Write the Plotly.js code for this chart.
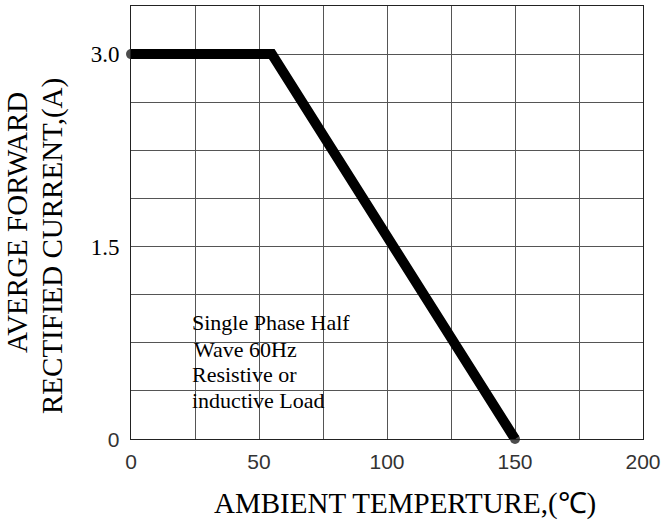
<!DOCTYPE html>
<html><head><meta charset="utf-8">
<script src="https://cdn.plot.ly/plotly-3.0.1.min.js"></script>
<style>html,body{margin:0;padding:0;background:#fff}</style>
</head><body>
<div id="chart" style="width:669px;height:521px"></div>
<script>
// Derating curve data
const temperature = [0, 55, 150];
const current = [3.0, 3.0, 0];
// Axis ticks
const xTickVals = [0, 25, 50, 75, 100, 125, 150, 175, 200];
const xTickText = ['0', '', '50', '', '100', '', '150', '', '200'];
const yTickVals = [0, 0.375, 0.75, 1.125, 1.5, 1.875, 2.25, 2.625, 3.0, 3.375];
const yTickText = ['0', '', '', '', '1.5', '', '', '', '3.0', ''];
const noteLines = ['Single Phase Half', 'Wave 60Hz', 'Resistive or', 'inductive Load'];
const xTitle = 'AMBIENT TEMPERTURE,(\u2103)';
const yTitleLines = ['AVERGE FORWARD', 'RECTIFIED CURRENT,(A)'];

const SERIF = 'Liberation Serif, Times New Roman, serif';
const yTickLabels = yTickText.map(t => t === '0'
  ? '<span style="font-family:Liberation Sans;font-size:21px;color:#333">0</span>'
  : t);

const trace = {
  x: temperature, y: current, type: 'scatter', mode: 'lines+markers',
  line: {color: '#000', width: 10},
  marker: {color: '#000', size: [10, 0, 10], line: {width: 0}},
  cliponaxis: false, hoverinfo: 'skip', showlegend: false
};

const noteLayout = [
  {x: 23, y: 0.906}, {x: 24, y: 0.701}, {x: 23, y: 0.499}, {x: 23, y: 0.304}
];
const annotations = noteLines.map((t, i) => ({
  text: t, x: noteLayout[i].x, y: noteLayout[i].y, xref: 'x', yref: 'y',
  xanchor: 'left', yanchor: 'middle', showarrow: false,
  font: {family: SERIF, size: 22, color: '#000'}
}));
// axis titles placed as annotations for exact positioning
annotations.push({
  text: xTitle, xref: 'paper', yref: 'paper', x: 0.535, y: -0.148,
  xanchor: 'center', yanchor: 'middle', showarrow: false,
  font: {family: SERIF, size: 29, color: '#000'}
});
const yTitlePos = [{x: -0.2227, y: 0.501}, {x: -0.1543, y: 0.4457}];
yTitleLines.forEach((t, i) => annotations.push({
  text: t, xref: 'paper', yref: 'paper', x: yTitlePos[i].x, y: yTitlePos[i].y,
  xanchor: 'center', yanchor: 'middle', showarrow: false, textangle: -90,
  font: {family: SERIF, size: 29, color: '#000'}
}));

const layout = {
  width: 669, height: 521,
  margin: {l: 131, r: 26, t: 6, b: 82},
  paper_bgcolor: '#fff', plot_bgcolor: '#fff',
  showlegend: false,
  xaxis: {
    range: [0, 200], tickmode: 'array', tickvals: xTickVals, ticktext: xTickText,
    showgrid: true, gridcolor: '#555', gridwidth: 1, zeroline: false,
    showline: true, mirror: true, linecolor: '#222', linewidth: 1, ticks: '',
    tickfont: {family: 'Liberation Sans', size: 21, color: '#333'},
    ticklabelstandoff: 4,
    fixedrange: true
  },
  yaxis: {
    range: [0, 3.375], tickmode: 'array', tickvals: yTickVals, ticktext: yTickLabels,
    showgrid: true, gridcolor: '#555', gridwidth: 1, zeroline: false,
    showline: true, mirror: true, linecolor: '#222', linewidth: 1, ticks: '',
    tickfont: {family: SERIF, size: 23, color: '#000'},
    ticklabelstandoff: 6,
    fixedrange: true
  },
  shapes: [{
    type: 'rect', xref: 'x', yref: 'y', x0: 22, x1: 84, y0: 0.522, y1: 1.037,
    fillcolor: '#fff', line: {width: 0}, layer: 'below'
  }],
  annotations: annotations
};

Plotly.newPlot('chart', [trace], layout, {displayModeBar: false, staticPlot: true});
</script>
</body></html>
